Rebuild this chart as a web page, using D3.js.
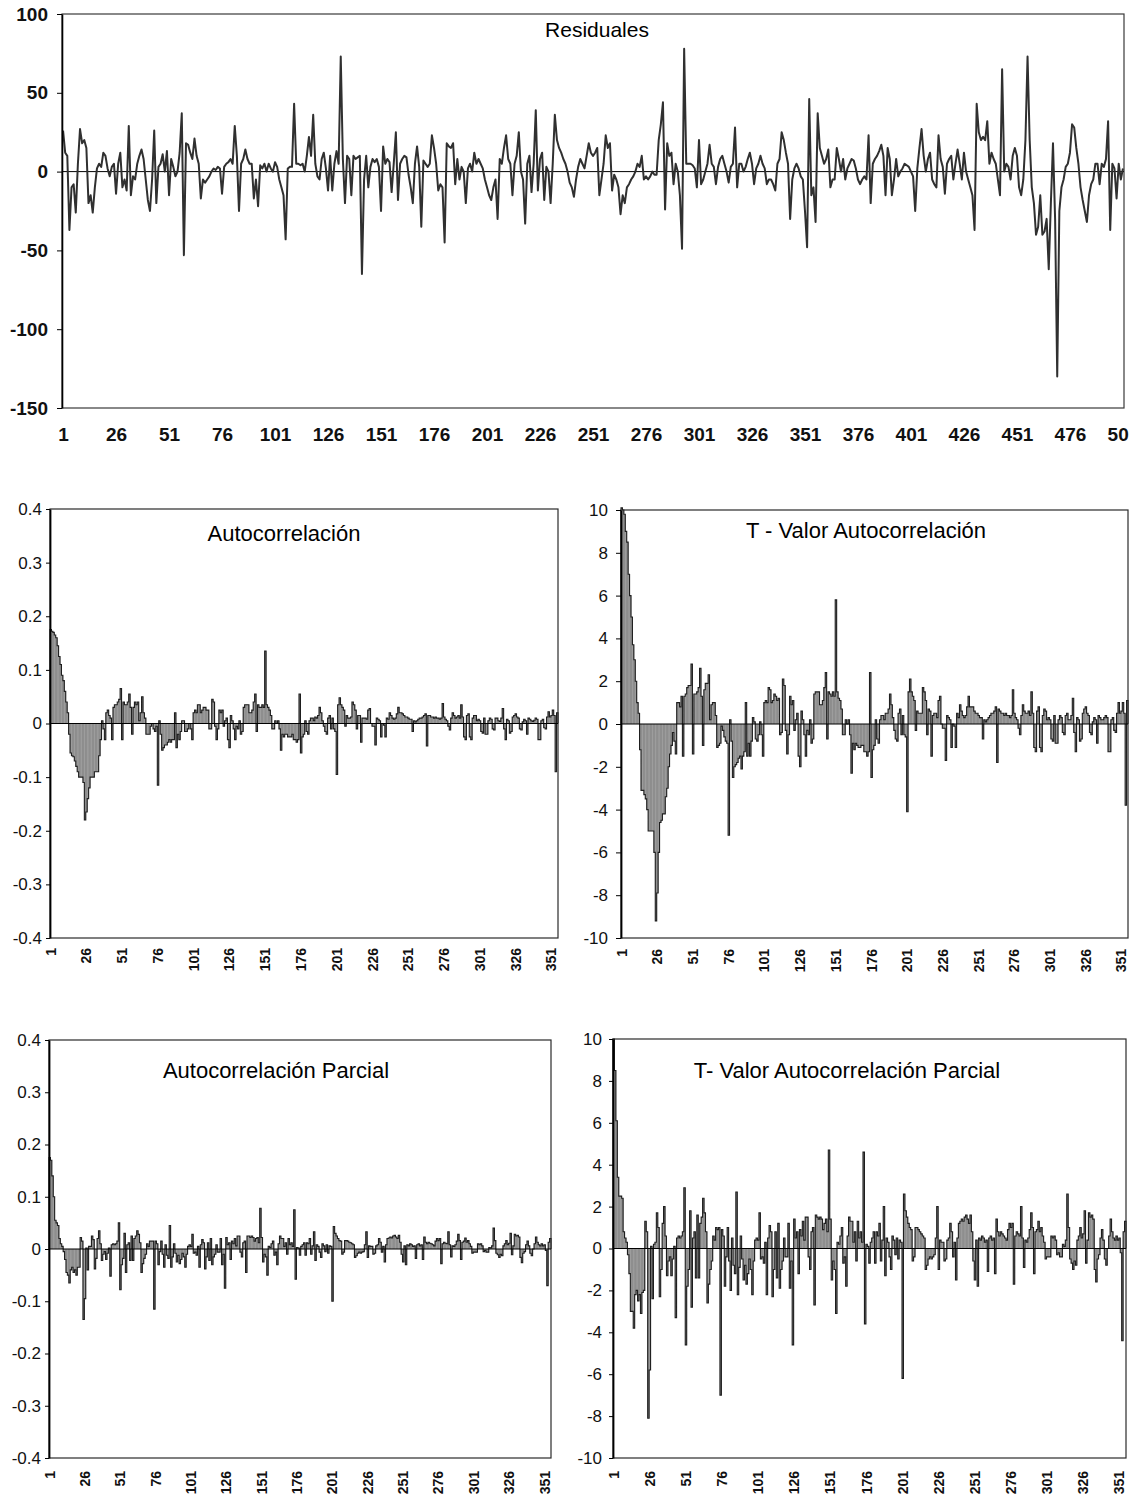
<!DOCTYPE html>
<html>
<head>
<meta charset="utf-8">
<script src="https://cdn.jsdelivr.net/npm/d3@7"></script>
<style>
  body { margin: 0; background: #fff; }
  svg { display: block; }
</style>
</head>
<body>
<svg id="chart" width="1138" height="1500"></svg>
<script>
// ---- Residual series (observations 1..501)
const residuales = [
  26,12,10,-37,-10,-8,-26,5,27,18,
  20,15,-20,-15,-26,-10,2,5,3,12,
  10,2,-3,3,5,-14,5,12,-10,-5,
  -12,29,-15,-3,-5,5,10,14,8,-5,
  -18,-25,-5,26,-20,3,5,11,0,13,
  -15,8,3,-3,0,12,37,-53,18,17,
  12,8,21,10,5,-17,-5,-7,-5,-3,
  0,2,1,3,2,-14,3,5,6,8,
  5,29,10,-25,5,8,14,8,5,5,
  -17,-5,-22,4,2,5,0,5,2,0,
  6,3,-5,-10,-15,-43,2,3,3,43,
  5,5,4,5,0,10,22,10,36,5,
  -3,-5,8,12,2,-12,10,-12,5,13,
  5,73,8,-20,10,8,-15,10,8,9,
  10,-65,-5,10,-10,3,8,6,8,3,
  -25,16,5,8,6,-13,5,25,-18,5,
  8,10,9,-2,-10,-20,5,16,3,-35,
  7,5,3,5,23,15,5,-12,-8,-10,
  -45,18,16,15,18,-8,8,-5,3,0,
  -20,2,5,0,12,5,8,5,2,-5,
  -10,-15,-18,-10,-5,-30,8,5,15,23,
  8,5,-15,5,10,25,0,-5,-33,5,
  10,-13,5,39,-12,8,12,-18,3,0,
  -20,5,36,20,15,12,8,5,0,-7,
  -10,-16,-5,3,8,5,2,10,18,12,
  10,12,15,-15,-5,5,23,15,18,-12,
  -2,-5,-10,-27,-15,-20,-10,-8,-5,-3,
  0,5,3,10,-5,-3,-5,-3,0,-2,
  -2,20,30,44,-24,18,10,12,-8,5,
  0,-15,-49,78,5,5,5,4,2,-10,
  20,-8,-5,0,5,17,5,3,-8,3,
  8,10,5,0,-7,3,5,28,-10,5,
  5,0,3,8,12,5,-8,2,5,10,
  5,2,-8,-5,-5,-8,-12,5,8,25,
  20,12,5,-30,-5,2,5,2,-3,-5,
  -25,-48,46,-15,-10,-32,37,15,10,5,
  8,14,-10,-5,-5,15,8,0,8,-5,
  2,5,8,7,2,-5,-8,-5,-3,-5,
  23,-20,5,8,10,13,17,10,-15,15,
  8,-15,-5,8,-3,0,2,5,4,3,
  0,-3,-25,2,15,27,10,0,8,12,
  -5,-8,-10,23,8,3,-14,5,8,10,
  -5,5,14,5,-5,12,0,-5,-10,-15,
  -37,43,25,20,22,20,32,5,12,8,
  5,-5,-15,65,0,5,3,-5,10,15,
  10,-10,-15,-5,20,73,20,-10,-20,-40,
  -35,-15,-40,-38,-30,-62,-20,18,-30,-130,
  -25,-10,-5,3,5,12,30,28,15,5,
  -10,-18,-25,-32,-15,-8,-5,5,5,-8,
  5,3,8,32,-37,5,2,-17,5,-5,
  2
];
const residualTicksY = [100, 50, 0, -50, -100, -150];
const residualTicksX = [1,26,51,76,101,126,151,176,201,226,251,276,301,326,351,376,401,426,451,476,501];

// ---- Sample autocorrelation, lags 1..355
const autocorrelacion = [
  0.175,0.172,0.170,0.165,0.160,0.145,0.125,0.110,0.090,0.080,
  0.060,0.040,0.020,-0.020,-0.055,-0.060,-0.062,-0.070,-0.080,-0.090,
  -0.100,-0.100,-0.100,-0.110,-0.180,-0.165,-0.140,-0.120,-0.100,-0.100,
  -0.100,-0.090,-0.090,-0.090,-0.060,-0.030,0.005,-0.010,-0.030,0.020,
  0.025,0.015,0.010,-0.030,0.030,0.035,0.035,0.040,0.045,0.065,
  -0.030,0.040,0.035,0.035,0.040,0.055,0.030,-0.020,0.030,0.040,
  0.035,0.040,0.005,0.020,0.050,0.020,0.010,-0.020,-0.020,-0.020,
  -0.005,0.000,-0.010,-0.015,-0.005,-0.115,0.005,-0.020,-0.050,-0.045,
  -0.040,-0.040,-0.035,-0.030,-0.035,-0.030,-0.030,0.020,-0.045,-0.020,
  -0.030,-0.015,0.005,0.005,-0.015,-0.015,-0.010,0.000,-0.010,-0.030,
  0.020,0.025,0.020,0.035,0.035,0.020,0.025,0.030,0.030,0.025,
  0.025,-0.010,-0.010,0.045,0.040,-0.005,-0.030,-0.010,0.025,0.020,
  0.025,-0.005,0.005,0.010,-0.030,-0.045,0.015,0.005,-0.010,-0.030,
  -0.005,-0.010,0.005,-0.020,-0.015,0.030,0.035,0.035,0.035,0.020,
  0.020,0.025,0.040,0.055,-0.015,0.035,0.030,0.030,0.035,0.030,
  0.135,0.035,0.030,0.025,0.015,-0.010,-0.010,0.005,0.000,0.005,
  -0.010,-0.050,-0.020,-0.025,-0.020,-0.020,-0.025,-0.025,-0.025,-0.020,
  -0.030,-0.030,-0.035,-0.030,0.055,-0.055,-0.025,-0.020,0.005,-0.015,
  -0.020,0.005,0.010,0.010,0.005,0.012,0.010,0.015,0.030,0.020,
  0.005,-0.005,-0.015,-0.020,0.010,0.015,-0.010,0.010,-0.010,-0.015,
  -0.095,0.035,0.048,0.035,0.030,0.025,-0.005,0.015,0.010,0.010,
  0.012,0.040,0.035,0.025,-0.010,0.015,0.015,-0.035,0.010,0.010,
  0.010,0.008,0.025,0.028,0.000,-0.005,-0.005,-0.040,0.010,0.008,
  0.005,-0.025,0.000,-0.003,-0.025,0.010,0.008,0.020,0.015,0.010,
  0.008,0.010,0.018,0.030,0.020,0.020,0.018,0.015,0.012,0.012,
  0.010,0.008,0.008,-0.015,0.005,0.003,0.005,0.008,0.010,0.010,
  0.012,0.015,0.018,-0.042,0.015,0.015,0.012,0.012,0.010,0.012,
  0.010,0.010,0.008,0.010,0.037,0.012,0.008,0.005,-0.005,-0.012,
  0.010,0.020,0.015,0.010,0.012,0.015,0.010,0.035,0.012,-0.025,
  -0.030,0.015,0.018,-0.025,-0.030,0.010,0.015,0.015,0.005,0.008,
  0.005,-0.015,-0.018,0.010,-0.020,-0.020,0.005,0.010,0.008,-0.010,
  -0.012,0.010,0.010,0.005,0.004,0.010,0.028,-0.010,-0.030,0.008,
  0.005,-0.018,-0.015,0.012,0.015,0.018,0.012,0.010,-0.010,-0.012,
  0.003,0.008,0.005,-0.020,0.010,0.008,0.005,0.004,0.006,0.010,
  0.008,-0.030,-0.030,0.005,0.008,-0.008,-0.010,0.012,0.022,0.012,
  0.015,0.025,0.015,-0.090,0.020
];

// ---- t-values of the autocorrelation, lags 1..355
const tAutocorrelacion = [
  10.1,10.0,9.8,9.0,8.5,7.0,6.0,5.0,3.7,3.0,
  2.0,1.0,0.5,-1.2,-3.1,-3.1,-3.3,-3.5,-4.0,-5.0,
  -5.0,-5.0,-5.0,-6.0,-9.2,-7.9,-6.0,-4.6,-4.5,-4.2,
  -4.2,-3.4,-3.0,-2.0,-1.4,-1.0,-0.4,-0.8,-1.4,1.0,
  1.0,0.8,1.3,-1.5,1.3,1.4,1.7,1.8,1.8,2.8,
  -1.4,1.4,1.4,1.5,1.7,2.6,1.3,-1.0,1.6,1.9,
  1.9,2.3,0.2,0.9,1.0,1.0,0.4,-1.1,-1.0,-0.9,
  -0.1,-0.3,-0.6,-0.8,-0.9,-5.2,0.2,-0.8,-2.5,-2.0,
  -1.9,-1.8,-1.6,-1.5,-2.1,-1.5,-1.3,1.0,-1.5,-0.9,
  -1.5,-0.8,0.3,0.1,-0.7,-0.8,-0.5,0.1,-0.5,-1.5,
  1.0,1.1,1.0,1.7,1.6,1.0,1.1,1.4,1.3,1.1,
  1.2,-0.5,-0.4,2.1,1.8,-0.3,-1.4,-0.5,1.3,0.9,
  1.1,-0.3,0.2,0.5,-1.5,-2.0,0.6,0.2,-0.5,-1.5,
  -0.3,-0.5,0.2,-0.9,-0.7,1.4,1.5,1.5,1.5,0.9,
  0.9,1.1,1.7,2.4,-0.7,1.5,1.4,1.3,1.5,1.3,
  5.8,1.5,1.2,1.1,0.7,-0.5,-0.5,0.2,0.0,0.2,
  -0.5,-2.3,-0.9,-1.2,-0.9,-1.0,-1.1,-1.1,-1.0,-1.0,
  -1.3,-1.3,-1.5,-1.3,2.4,-2.5,-1.2,-1.0,0.2,-0.7,
  -0.9,0.2,0.4,0.4,0.2,0.5,0.5,0.7,1.4,0.9,
  0.3,-0.3,-0.7,-0.8,0.5,0.7,-0.5,0.4,-0.5,-0.6,
  -4.1,1.5,2.1,1.5,1.3,1.1,-0.3,0.6,0.5,0.5,
  0.5,1.7,1.5,1.1,-0.5,0.7,0.6,-1.5,0.4,0.5,
  0.5,0.3,1.1,1.3,0.0,-0.2,-0.2,-1.7,0.4,0.3,
  0.2,-1.1,0.0,-0.1,-1.1,0.5,0.3,0.9,0.6,0.4,
  0.3,0.4,0.8,1.3,0.8,0.8,0.8,0.6,0.5,0.5,
  0.4,0.3,0.3,-0.7,0.2,0.1,0.2,0.3,0.4,0.5,
  0.5,0.6,0.8,-1.8,0.7,0.6,0.5,0.5,0.4,0.5,
  0.4,0.4,0.3,0.4,1.6,0.5,0.3,0.2,-0.2,-0.5,
  0.4,0.9,0.6,0.5,0.5,0.6,0.4,1.5,0.5,-1.1,
  -1.3,0.6,0.8,-1.1,-1.3,0.4,0.7,0.6,0.2,0.3,
  0.2,-0.7,-0.8,0.4,-0.9,-0.9,0.2,0.4,0.3,-0.4,
  -0.5,0.4,0.5,0.2,0.2,0.4,1.2,-0.4,-1.3,0.3,
  0.2,-0.8,-0.7,0.5,0.7,0.8,0.5,0.4,-0.4,-0.5,
  0.1,0.3,0.2,-0.9,0.4,0.3,0.2,0.2,0.3,0.4,
  0.3,-1.3,-1.3,0.2,0.3,-0.3,-0.4,0.5,1.0,0.5,
  0.6,1.0,0.5,-3.8,1.1
];

// ---- Sample partial autocorrelation, lags 1..355
const autocorrelacionParcial = [
  0.175,0.170,0.140,0.100,0.055,0.050,0.045,0.020,0.010,0.005,
  -0.005,-0.020,-0.045,-0.050,-0.065,-0.040,-0.035,-0.045,-0.040,-0.050,
  -0.035,-0.035,0.022,0.015,-0.135,-0.095,0.002,-0.040,0.005,0.005,
  0.025,0.018,-0.038,-0.018,0.020,0.035,0.010,-0.022,-0.010,-0.005,
  -0.020,-0.008,0.002,-0.052,0.008,0.010,0.008,0.010,0.015,0.050,
  -0.078,-0.030,-0.018,0.030,-0.045,0.008,0.012,-0.022,0.025,-0.022,
  0.020,0.025,0.035,0.028,0.012,-0.045,-0.028,-0.018,-0.010,0.010,
  0.005,0.015,0.015,0.015,-0.115,0.015,0.010,-0.030,-0.005,0.015,
  -0.010,-0.035,0.008,-0.012,-0.018,0.045,-0.035,-0.015,0.010,-0.008,
  -0.025,-0.012,-0.028,-0.020,-0.008,-0.015,-0.035,-0.010,0.005,0.008,
  0.005,0.028,-0.008,-0.006,-0.012,0.005,-0.035,0.008,0.018,0.012,
  -0.038,-0.015,0.012,-0.022,0.020,-0.030,-0.015,-0.010,0.008,-0.006,
  -0.006,0.020,-0.030,-0.010,-0.075,0.022,0.008,0.012,-0.020,0.015,
  0.010,0.020,0.006,0.025,0.025,-0.006,-0.015,0.012,0.015,-0.045,
  0.025,0.025,0.022,0.025,0.022,0.015,0.020,0.022,0.012,0.078,
  0.022,-0.025,-0.010,-0.015,-0.050,0.005,0.003,0.010,0.015,-0.012,
  -0.006,-0.030,0.010,0.025,0.020,0.020,0.005,0.012,-0.010,0.020,
  0.008,0.012,0.005,0.075,-0.058,0.003,0.002,-0.012,0.005,0.008,
  0.012,-0.012,0.012,0.010,0.020,-0.010,0.006,0.033,-0.022,0.008,
  0.005,-0.006,-0.016,0.010,0.006,-0.005,0.008,-0.008,0.006,0.005,
  -0.100,0.043,0.030,0.025,0.020,0.016,0.015,-0.010,-0.006,0.016,
  0.016,0.015,0.013,0.012,0.010,0.008,-0.016,-0.013,-0.008,-0.006,
  -0.008,-0.006,-0.005,0.008,0.033,-0.016,0.006,0.005,0.005,-0.010,
  -0.008,0.006,0.008,0.020,0.013,-0.006,0.005,-0.025,0.008,0.020,
  0.021,0.023,0.021,0.025,0.026,0.023,0.020,0.026,0.013,-0.010,
  -0.025,0.006,-0.030,0.008,0.006,0.010,0.008,0.005,0.006,-0.018,
  0.008,0.010,0.006,0.008,-0.020,0.023,0.013,0.010,0.013,0.011,
  0.010,0.008,0.006,0.015,0.020,0.016,0.020,-0.028,0.010,0.013,
  0.011,0.010,0.033,0.008,-0.015,0.006,0.005,0.008,0.015,0.028,
  0.016,-0.020,0.013,0.015,0.021,0.013,0.016,0.010,0.005,-0.008,
  -0.006,-0.006,-0.006,0.010,0.008,0.010,0.006,-0.005,-0.003,-0.006,
  -0.006,0.003,0.002,0.006,0.040,0.016,-0.008,-0.011,-0.016,-0.010,
  -0.013,0.006,0.010,0.016,0.008,0.011,0.030,-0.011,0.006,0.028,
  0.025,0.026,0.023,-0.016,-0.026,-0.008,-0.005,0.008,0.015,0.006,
  -0.008,-0.013,0.000,0.010,0.023,0.013,0.008,0.006,0.010,0.006,
  0.008,-0.003,-0.070,0.013,0.020
];

// ---- t-values of the partial autocorrelation, lags 1..355
const tAutocorrelacionParcial = [
  10.0,8.5,6.1,3.4,2.5,2.5,2.4,0.8,0.5,0.3,
  -0.3,-1.2,-3.0,-3.0,-3.8,-2.2,-2.0,-2.5,-2.2,-3.1,
  -2.1,-2.0,1.3,0.8,-8.1,-5.8,0.1,-2.4,0.2,0.3,
  1.7,1.0,-2.3,-1.0,1.2,2.0,0.6,-1.3,-0.6,-0.4,
  -1.3,-0.5,0.1,-3.3,0.5,0.6,0.5,0.6,0.8,2.9,
  -4.6,-1.8,-1.0,1.8,-2.8,0.5,0.8,-1.4,1.6,-1.4,
  1.2,1.5,2.4,1.7,0.8,-2.6,-1.7,-1.0,-0.6,0.6,
  0.4,1.0,0.9,1.0,-7.0,0.9,0.6,-1.8,-0.4,1.0,
  -0.6,-2.0,0.5,-0.8,-1.2,2.7,-2.2,-0.9,0.6,-0.5,
  -1.5,-0.8,-1.7,-1.2,-0.5,-1.0,-2.2,-0.6,0.4,0.5,
  0.4,1.7,-0.5,-0.4,-0.7,0.3,-2.2,0.5,1.1,0.8,
  -2.3,-1.0,0.8,-1.4,1.2,-1.9,-1.0,-0.6,0.5,-0.4,
  -0.4,1.2,-1.9,-0.6,-4.6,1.4,0.5,0.8,-1.2,0.9,
  0.6,1.3,0.4,1.5,1.5,-0.4,-1.0,0.8,1.0,-2.7,
  1.6,1.5,1.4,1.5,1.4,0.9,1.2,1.4,0.8,4.7,
  1.4,-1.5,-0.6,-1.0,-3.1,0.3,0.2,0.6,1.0,-0.7,
  -0.4,-1.8,0.6,1.5,1.3,1.3,0.3,0.8,-0.6,1.3,
  0.5,0.8,0.3,4.6,-3.6,0.2,0.1,-0.7,0.3,0.5,
  0.8,-0.7,0.8,0.6,1.2,-0.6,0.4,2.0,-1.3,0.5,
  0.3,-0.4,-1.0,0.6,0.4,-0.3,0.5,-0.5,0.4,0.3,
  -6.2,2.6,1.8,1.5,1.2,1.0,0.9,-0.6,-0.4,1.0,
  1.0,0.9,0.8,0.7,0.6,0.5,-1.0,-0.8,-0.5,-0.4,
  -0.5,-0.4,-0.3,0.5,2.0,-1.0,0.4,0.3,0.3,-0.6,
  -0.5,0.4,0.5,1.2,0.8,-0.4,0.3,-1.5,0.5,1.2,
  1.3,1.4,1.3,1.5,1.6,1.4,1.2,1.6,0.8,-0.6,
  -1.5,0.4,-1.8,0.5,0.4,0.6,0.5,0.3,0.4,-1.1,
  0.5,0.6,0.4,0.5,-1.2,1.4,0.8,0.6,0.8,0.7,
  0.6,0.5,0.4,0.9,1.2,1.0,1.2,-1.7,0.6,0.8,
  0.7,0.6,2.0,0.5,-0.9,0.4,0.3,0.5,0.9,1.7,
  1.0,-1.2,0.8,0.9,1.3,0.8,1.0,0.6,0.3,-0.5,
  -0.4,-0.4,-0.4,0.6,0.5,0.6,0.4,-0.3,-0.2,-0.4,
  -0.4,0.2,0.1,0.4,2.6,1.0,-0.5,-0.7,-1.0,-0.6,
  -0.8,0.4,0.6,1.0,0.5,0.7,1.8,-0.7,0.4,1.7,
  1.5,1.6,1.4,-1.0,-1.6,-0.5,-0.3,0.5,0.9,0.4,
  -0.5,-0.8,0.0,0.6,1.4,0.8,0.5,0.4,0.6,0.4,
  0.5,-0.2,-4.4,0.8,1.3
];

const corrTicksY = [0.4, 0.3, 0.2, 0.1, 0, -0.1, -0.2, -0.3, -0.4];
const tTicksY = [10, 8, 6, 4, 2, 0, -2, -4, -6, -8, -10];
const lagTicks = [1,26,51,76,101,126,151,176,201,226,251,276,301,326,351];

const FONT = "'Liberation Sans', Arial, Helvetica, sans-serif";
const svg = d3.select("#chart");

// ---------- Residuals line chart ----------
(function residualPanel() {
  const L = 62, R = 1124, T = 14, B = 408;
  const x = d3.scalePoint()
    .domain(d3.range(1, residuales.length + 1))
    .range([L, R]).padding(0.5);
  const y = d3.scaleLinear().domain([-150, 100]).range([B, T]);
  const g = svg.append("g");

  g.append("rect")
    .attr("x", L).attr("y", T).attr("width", R - L).attr("height", B - T)
    .attr("fill", "none").attr("stroke", "#3a3a3a").attr("stroke-width", 1.2);

  g.append("line")
    .attr("x1", L).attr("x2", R).attr("y1", y(0)).attr("y2", y(0))
    .attr("stroke", "#000").attr("stroke-width", 1);

  g.append("path")
    .datum(residuales)
    .attr("fill", "none")
    .attr("stroke", "#303030")
    .attr("stroke-width", 2)
    .attr("stroke-linejoin", "round")
    .attr("d", d3.line().x((d, i) => x(i + 1)).y(d => y(d)));

  const ya = g.append("g")
    .attr("transform", `translate(${L},0)`)
    .call(d3.axisLeft(y).tickValues(residualTicksY).tickFormat(d => String(d))
      .tickSize(5).tickSizeOuter(0).tickPadding(9));
  ya.select(".domain").attr("stroke", "#000").attr("stroke-width", 1.6);
  ya.selectAll(".tick line").attr("stroke", "#000");
  ya.selectAll("text").attr("font-family", FONT).attr("font-size", 19)
    .attr("font-weight", "bold").attr("fill", "#111");

  svg.append("defs").append("clipPath").attr("id", "resLabelClip")
    .append("rect").attr("x", 0).attr("y", 0).attr("width", 1129).attr("height", 500);

  const xa = g.append("g")
    .attr("clip-path", "url(#resLabelClip)")
    .append("g")
    .attr("transform", `translate(0,${B})`)
    .call(d3.axisBottom(x).tickValues(residualTicksX).tickSize(0).tickPadding(20));
  xa.select(".domain").remove();
  xa.selectAll("text").attr("font-family", FONT).attr("font-size", 19)
    .attr("font-weight", "bold").attr("fill", "#111");

  g.append("text")
    .attr("x", 597).attr("y", 37)
    .attr("text-anchor", "middle")
    .attr("font-family", FONT).attr("font-size", 21).attr("fill", "#000")
    .text("Residuales");
})();

// ---------- Correlogram bar panels ----------
function barPanel(o) {
  const x = d3.scaleBand()
    .domain(d3.range(1, o.values.length + 1))
    .range([o.L, o.R]).paddingInner(0).paddingOuter(0);
  const y = d3.scaleLinear().domain(o.domain).range([o.B, o.T]);
  const bw = x.bandwidth();
  const y0 = y(0);
  const g = svg.append("g");

  g.append("rect")
    .attr("x", o.L).attr("y", o.T).attr("width", o.R - o.L).attr("height", o.B - o.T)
    .attr("fill", "none").attr("stroke", "#2a2a2a").attr("stroke-width", 1.2);

  g.append("g").selectAll("rect")
    .data(o.values)
    .join("rect")
    .attr("x", (d, i) => x(i + 1))
    .attr("width", bw + 0.25)
    .attr("y", d => Math.min(y(d), y0))
    .attr("height", d => Math.abs(y(d) - y0))
    .attr("fill", "#8e8e8e");

  // outline of the bar tops and sides
  const pts = [[o.L, y0]];
  o.values.forEach((d, i) => {
    pts.push([x(i + 1), y(d)]);
    pts.push([x(i + 1) + bw, y(d)]);
  });
  pts.push([o.R, y0]);
  g.append("path")
    .attr("d", d3.line()(pts))
    .attr("fill", "none").attr("stroke", "#1e1e1e").attr("stroke-width", 1.1);

  g.append("line")
    .attr("x1", o.L).attr("x2", o.R).attr("y1", y0).attr("y2", y0)
    .attr("stroke", "#000").attr("stroke-width", 1);

  const ya = g.append("g")
    .attr("transform", `translate(${o.L},0)`)
    .call(d3.axisLeft(y).tickValues(o.ticks).tickFormat(o.fmt)
      .tickSize(o.tickSize).tickSizeOuter(0).tickPadding(o.tickPad));
  ya.select(".domain").attr("stroke", "#000").attr("stroke-width", 1.8);
  ya.selectAll(".tick line").attr("stroke", "#000");
  ya.selectAll("text").attr("font-family", FONT).attr("font-size", 17).attr("fill", "#111");

  const xa = g.append("g")
    .attr("transform", `translate(0,${o.B})`)
    .call(d3.axisBottom(x).tickValues(lagTicks).tickSize(0));
  xa.select(".domain").remove();
  xa.selectAll("text")
    .attr("transform", "rotate(-90)")
    .attr("text-anchor", "end")
    .attr("x", -o.labelGap).attr("y", 0).attr("dy", "0.35em")
    .attr("font-family", FONT).attr("font-size", 14).attr("font-weight", "bold").attr("fill", "#111");

  g.append("text")
    .attr("x", o.titleX).attr("y", o.titleY)
    .attr("text-anchor", "middle")
    .attr("font-family", FONT).attr("font-size", 22).attr("fill", "#000")
    .text(o.title);
}

const fmtCorr = d => d === 0 ? "0" : d.toFixed(1);
const fmtT = d => String(d);

barPanel({ values: autocorrelacion, L: 50, R: 558, T: 509, B: 938,
  domain: [-0.4, 0.4], ticks: corrTicksY, fmt: fmtCorr, tickSize: 4, tickPad: 4,
  labelGap: 10, title: "Autocorrelación", titleX: 284, titleY: 541 });

barPanel({ values: tAutocorrelacion, L: 621, R: 1128, T: 510, B: 938,
  domain: [-10, 10], ticks: tTicksY, fmt: fmtT, tickSize: 5, tickPad: 8,
  labelGap: 11, title: "T - Valor Autocorrelación", titleX: 866, titleY: 538 });

barPanel({ values: autocorrelacionParcial, L: 49, R: 551, T: 1040, B: 1458,
  domain: [-0.4, 0.4], ticks: corrTicksY, fmt: fmtCorr, tickSize: 4, tickPad: 4,
  labelGap: 13, title: "Autocorrelación Parcial", titleX: 276, titleY: 1078 });

barPanel({ values: tAutocorrelacionParcial, L: 613, R: 1126, T: 1039, B: 1458,
  domain: [-10, 10], ticks: tTicksY, fmt: fmtT, tickSize: 4, tickPad: 7,
  labelGap: 13, title: "T- Valor Autocorrelación Parcial", titleX: 847, titleY: 1078 });
</script>
</body>
</html>
